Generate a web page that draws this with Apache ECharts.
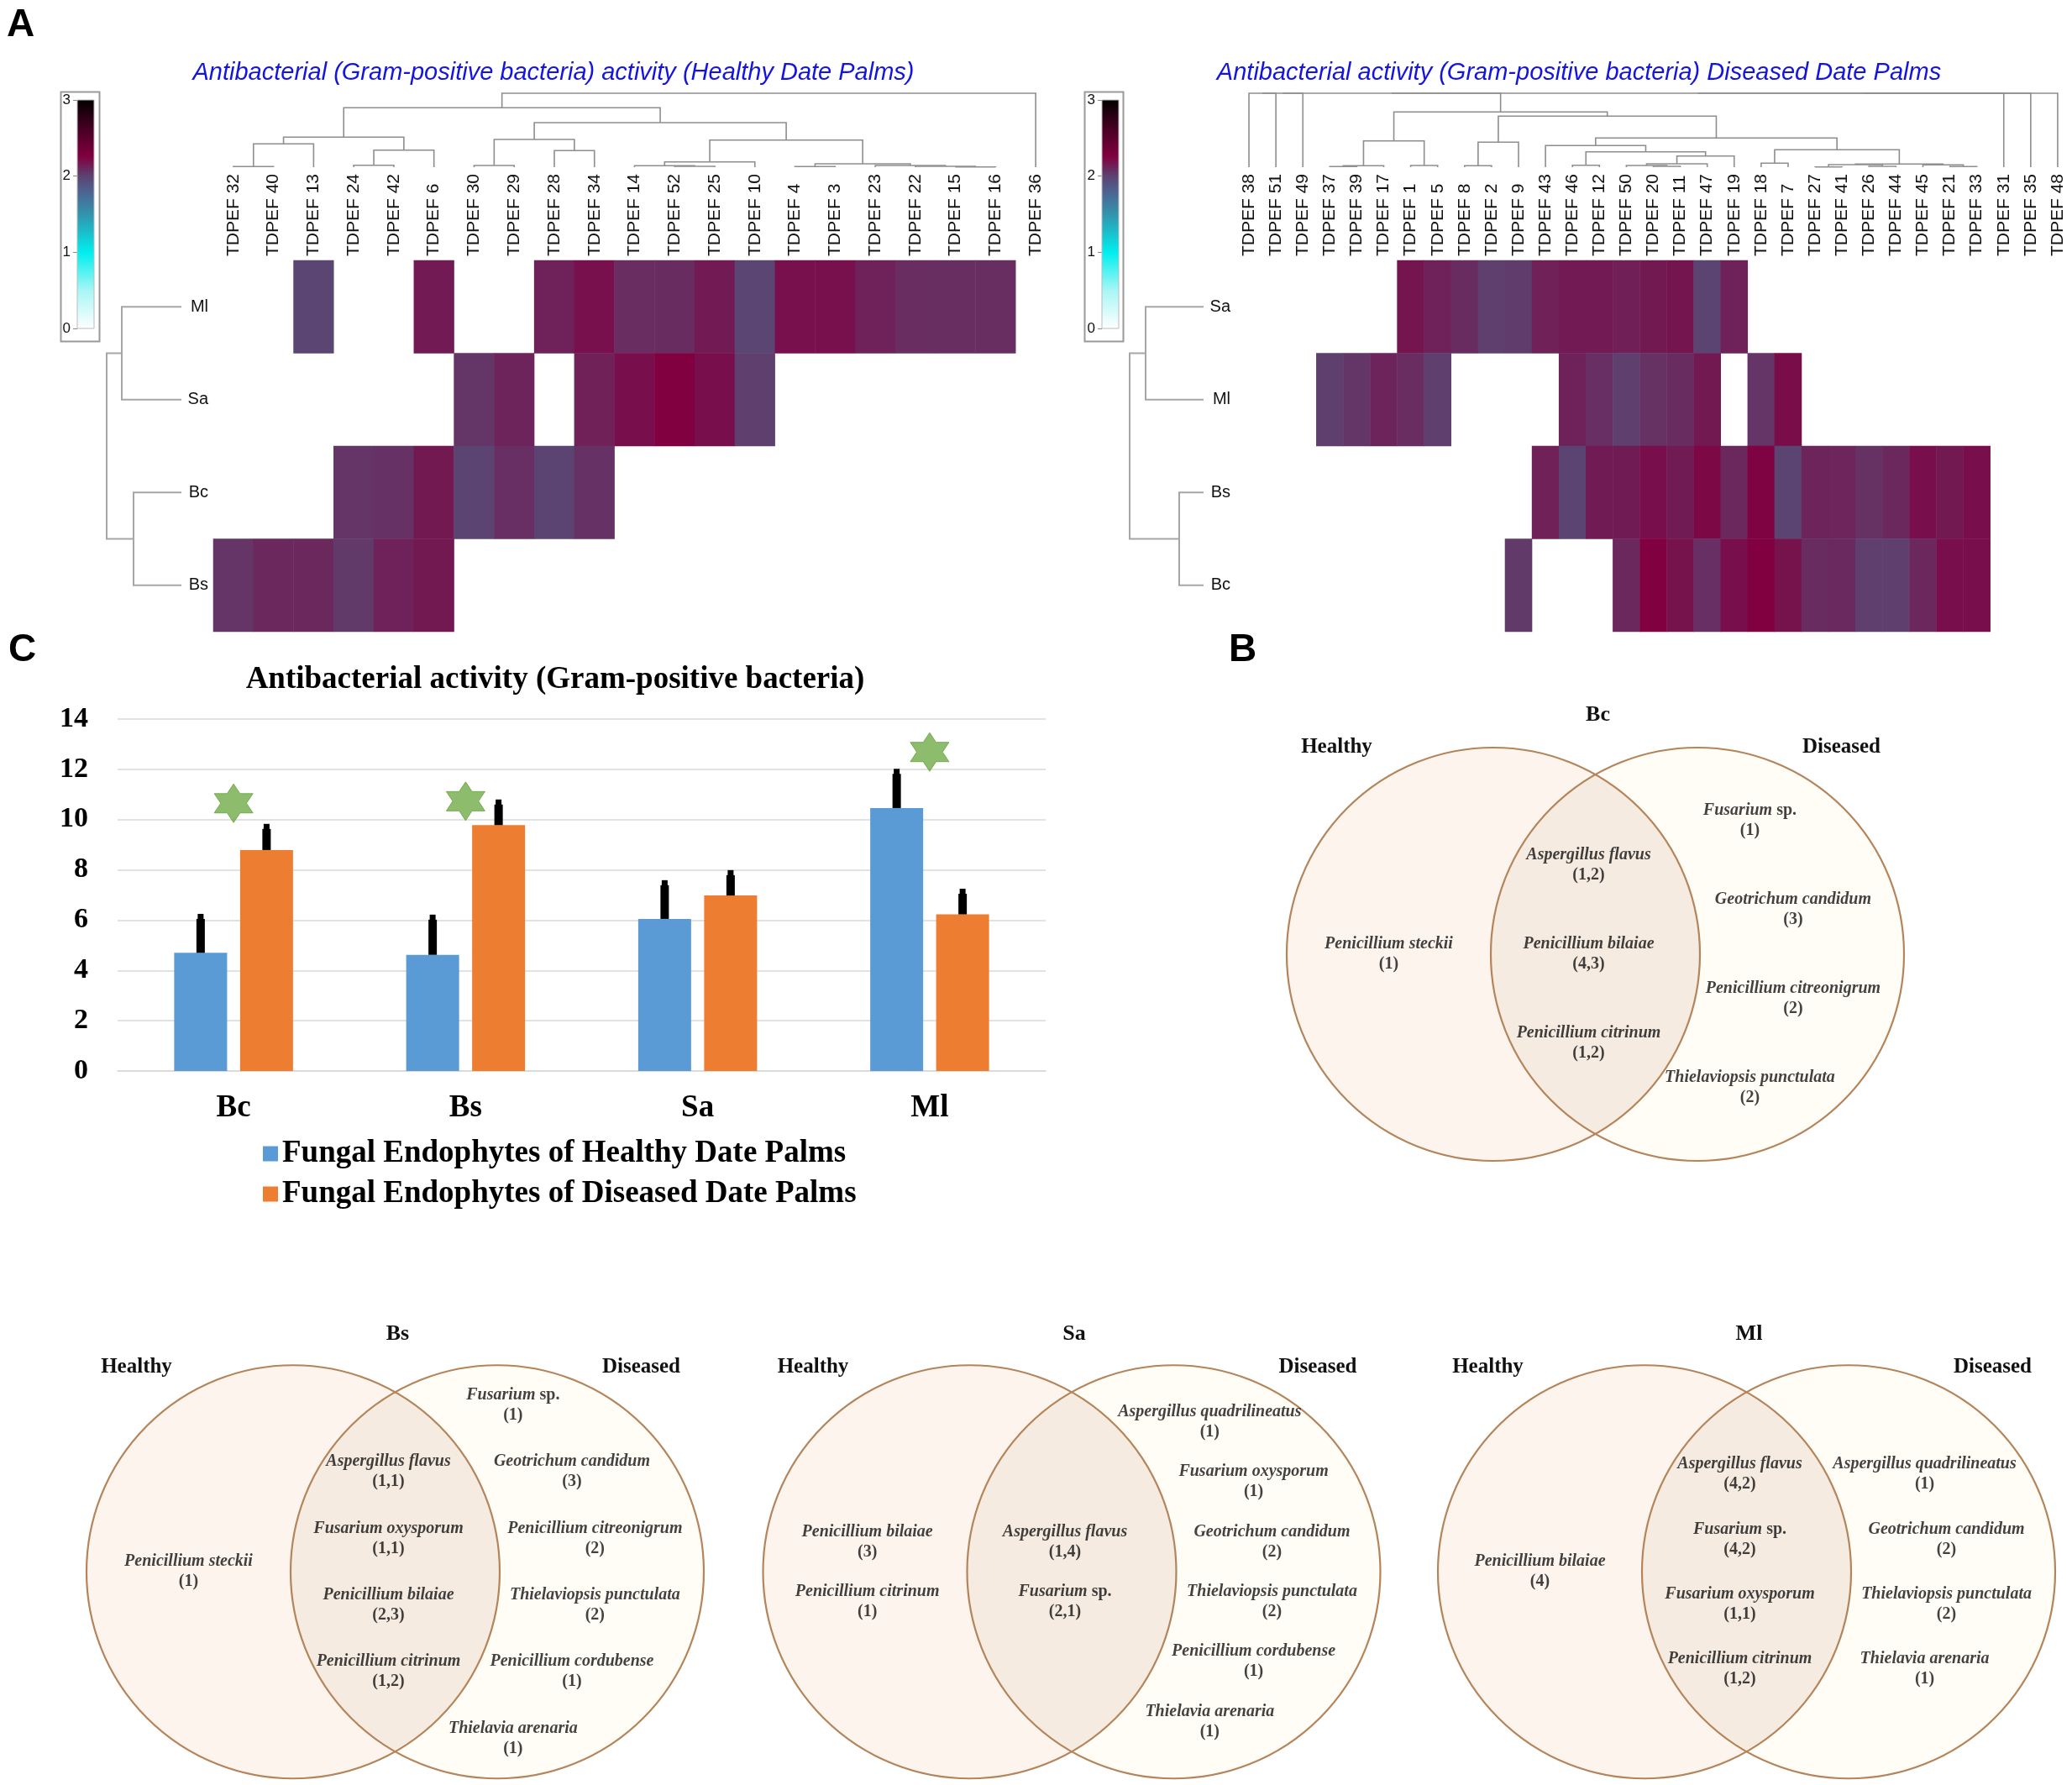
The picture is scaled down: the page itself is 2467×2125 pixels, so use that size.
<!DOCTYPE html>
<html><head><meta charset="utf-8">
<script src="https://cdn.jsdelivr.net/npm/echarts@6/dist/echarts.min.js"></script>
<style>html,body{margin:0;padding:0;background:#fff}#c{width:2467px;height:2125px}</style>
</head><body><div id="c"></div>
<script>
// ================= DATA =================
const _ = null;
// Panel A (left) – healthy date palms
const healthyCols = ['TDPEF 32','TDPEF 40','TDPEF 13','TDPEF 24','TDPEF 42','TDPEF 6','TDPEF 30','TDPEF 29','TDPEF 28','TDPEF 34','TDPEF 14','TDPEF 52','TDPEF 25','TDPEF 10','TDPEF 4','TDPEF 3','TDPEF 23','TDPEF 22','TDPEF 15','TDPEF 16','TDPEF 36'];
const healthyRows = ['Ml','Sa','Bc','Bs'];
const healthyMl = [_,_,1.98,_,_,2.15,_,_,2.12,2.19,2.08,2.085,2.15,1.98,2.19,2.19,2.12,2.08,2.075,2.075,_];
const healthySa = [_,_,_,_,_,_,2.045,2.115,_,2.125,2.195,2.25,2.195,2.01,_,_,_,_,_,_,_];
const healthyBc = [_,_,_,2.05,2.065,2.155,1.99,2.07,1.99,2.065,_,_,_,_,_,_,_,_,_,_,_];
const healthyBs = [2.05,2.1,2.1,2.03,2.12,2.155,_,_,_,_,_,_,_,_,_,_,_,_,_,_,_];
// column dendrogram: [childA, childB, height]
const healthyColMerges = [[0,1,0.7],[21,2,27.7],[3,4,2.3],[23,5,20.3],[22,24,35.7],[6,7,2],[8,9,19.7],[26,27,33],[11,12,1],[10,29,1.7],[30,13,6.3],[14,15,0.7],[18,19,0.3],[17,33,1],[16,34,2],[32,35,4],[31,36,32.3],[28,37,53],[25,38,70.7],[39,20,88]];
const healthyRowMerges = [[0,1,71],[2,3,57],[4,5,89]];

// Panel A (right) – diseased date palms
const diseasedCols = ['TDPEF 38','TDPEF 51','TDPEF 49','TDPEF 37','TDPEF 39','TDPEF 17','TDPEF 1','TDPEF 5','TDPEF 8','TDPEF 2','TDPEF 9','TDPEF 43','TDPEF 46','TDPEF 12','TDPEF 50','TDPEF 20','TDPEF 11','TDPEF 47','TDPEF 19','TDPEF 18','TDPEF 7','TDPEF 27','TDPEF 41','TDPEF 26','TDPEF 44','TDPEF 45','TDPEF 21','TDPEF 33','TDPEF 31','TDPEF 35','TDPEF 48'];
const diseasedRows = ['Sa','Ml','Bs','Bc'];
const diseasedSa = [_,_,_,_,_,_,2.17,2.12,2.085,2.01,2.02,2.125,2.15,2.15,2.13,2.155,2.17,1.99,2.12,_,_,_,_,_,_,_,_,_,_,_,_];
const diseasedMl = [_,_,_,2.01,2.045,2.115,2.08,2.01,_,_,_,_,2.12,2.07,2.01,2.06,2.085,2.155,_,2.05,2.2,_,_,_,_,_,_,_,_,_,_];
const diseasedBs = [_,_,_,_,_,_,_,_,_,_,_,2.125,1.99,2.145,2.145,2.195,2.145,2.22,2.1,2.24,1.99,2.115,2.11,2.06,2.1,2.195,2.155,2.195,_,_,_];
const diseasedBc = [_,_,_,_,_,_,_,_,_,_,2.03,_,_,_,2.1,2.25,2.18,2.07,2.195,2.25,2.18,2.085,2.09,2.01,2.01,2.1,2.195,2.195,_,_,_];
const diseasedColMerges = [[3,4,0.7],[31,5,1.7],[6,7,2],[32,33,31.3],[8,9,1.7],[35,10,29.7],[12,13,2.3],[15,16,1],[14,38,2],[39,17,4],[40,18,13.3],[37,41,18.3],[11,42,25.7],[19,20,4.7],[21,22,0.3],[23,24,1],[45,46,3],[26,27,0.7],[25,48,2.7],[47,49,3.7],[44,50,20.7],[43,51,34.7],[36,52,60.7],[34,53,65.7],[0,1,88],[55,2,88],[56,54,88],[57,28,88],[58,29,88],[59,30,88]];
const diseasedRowMerges = [[0,1,69],[2,3,29],[4,5,88]];
const colorScaleRange = [0,3];

// Panel C – bar chart
const barCategories = ['Bc','Bs','Sa','Ml'];
const healthyMeans = [4.70,4.62,6.05,10.46];
const diseasedMeans = [8.79,9.78,6.98,6.23];
const healthyErr = [1.55,1.60,1.54,1.56];
const diseasedErr = [1.04,1.02,1.01,1.02];
const starCategories = [0,1,3];
const starValues = [10.65,10.73,12.69];
const seriesNames = ['Fungal Endophytes of Healthy Date Palms','Fungal Endophytes of Diseased Date Palms'];

// Panel B – Venn diagrams [species, counts]
const vennBcHealthy = [['Penicillium steckii','(1)']];
const vennBcShared = [['Aspergillus flavus','(1,2)'],['Penicillium bilaiae','(4,3)'],['Penicillium citrinum','(1,2)']];
const vennBcDiseased = [['Fusarium sp.','(1)'],['Geotrichum candidum','(3)'],['Penicillium citreonigrum','(2)'],['Thielaviopsis punctulata','(2)']];
const vennBsHealthy = [['Penicillium steckii','(1)']];
const vennBsShared = [['Aspergillus flavus','(1,1)'],['Fusarium oxysporum','(1,1)'],['Penicillium bilaiae','(2,3)'],['Penicillium citrinum','(1,2)']];
const vennBsDiseased = [['Fusarium sp.','(1)'],['Geotrichum candidum','(3)'],['Penicillium citreonigrum','(2)'],['Thielaviopsis punctulata','(2)'],['Penicillium cordubense','(1)'],['Thielavia arenaria','(1)']];
const vennSaHealthy = [['Penicillium bilaiae','(3)'],['Penicillium citrinum','(1)']];
const vennSaShared = [['Aspergillus flavus','(1,4)'],['Fusarium sp.','(2,1)']];
const vennSaDiseased = [['Aspergillus quadrilineatus','(1)'],['Fusarium oxysporum','(1)'],['Geotrichum candidum','(2)'],['Thielaviopsis punctulata','(2)'],['Penicillium cordubense','(1)'],['Thielavia arenaria','(1)']];
const vennMlHealthy = [['Penicillium bilaiae','(4)']];
const vennMlShared = [['Aspergillus flavus','(4,2)'],['Fusarium sp.','(4,2)'],['Fusarium oxysporum','(1,1)'],['Penicillium citrinum','(1,2)']];
const vennMlDiseased = [['Aspergillus quadrilineatus','(1)'],['Geotrichum candidum','(2)'],['Thielaviopsis punctulata','(2)'],['Thielavia arenaria','(1)']];

// ================= LAYOUT / STYLE =================
const SANS = '"Liberation Sans", Arial, sans-serif';
const SERIF = '"Liberation Serif", "Times New Roman", serif';
const keyStops = [[0,'#ffffff'],[0.5,'#a8f6f6'],[1.0,'#00eeee'],[1.5,'#3194ad'],[1.8,'#4d6290'],[2.0,'#5d4270'],[2.25,'#800040'],[2.6,'#4a0025'],[3.0,'#000000']];
function hex2rgb(h){return [parseInt(h.slice(1,3),16),parseInt(h.slice(3,5),16),parseInt(h.slice(5,7),16)];}
function colorAt(v){
  for(let i=0;i<keyStops.length-1;i++){
    const [v0,c0]=keyStops[i],[v1,c1]=keyStops[i+1];
    if(v<=v1){const t=(v-v0)/(v1-v0);const a=hex2rgb(c0),b=hex2rgb(c1);
      return 'rgb('+a.map((x,j)=>Math.round(x+(b[j]-x)*t)).join(',')+')';}
  }
  return '#000000';
}
const vmColors=[];for(let i=0;i<=120;i++)vmColors.push(colorAt(colorScaleRange[1]*i/120));
const gradStops = keyStops.map(([v,c])=>({offset:1-v/colorScaleRange[1],color:c})).reverse();

function heatData(rows){const out=[];rows.forEach((arr,r)=>arr.forEach((v,c)=>{if(v!==null)out.push([c,r,v]);}));return out;}
function dendroLinks(merges,n){
  const pos=[],ht=[];for(let i=0;i<n;i++){pos[i]=i;ht[i]=0;}
  const links=[];
  merges.forEach((m,k)=>{const [a,b,h]=m;links.push([pos[a],ht[a],pos[b],ht[b],h]);pos[n+k]=(pos[a]+pos[b])/2;ht[n+k]=h;});
  return links;
}
function dendroRender(orient,color,width){
  return function(params,api){
    const a=api.value(0),ha=api.value(1),b=api.value(2),hb=api.value(3),h=api.value(4);
    const P=orient==='col'?(p,hh)=>api.coord([p,hh]):(p,hh)=>api.coord([hh,p]);
    return {type:'polyline',shape:{points:[P(a,ha),P(a,h),P(b,h),P(b,hb)]},style:{stroke:color,lineWidth:width,fill:'none'}};
  };
}

const grids=[], xAxes=[], yAxes=[], series=[], graphics=[];
function addGrid(g,x,y){grids.push(g);const i=grids.length-1;x.gridIndex=i;y.gridIndex=i;xAxes.push(x);yAxes.push(y);return i;}

// ---------- Heatmaps ----------
const HM_TOP=310, HM_H=442;
function heatPanel(cols,rowsNames,rowsData,left,width){
  const gi=addGrid({left:left,top:HM_TOP,width:width,height:HM_H},
    {type:'category',data:cols,position:'top',axisLine:{show:false},axisTick:{show:false},splitLine:{show:false},
     axisLabel:{rotate:-90,align:'left',verticalAlign:'middle',margin:5,fontSize:21,fontFamily:SANS,color:'#111',interval:0}},
    {type:'category',data:rowsNames,inverse:true,axisLine:{show:false},axisTick:{show:false},splitLine:{show:false},
     axisLabel:{margin:6,fontSize:20,fontFamily:SANS,color:'#111'}});
  series.push({type:'heatmap',xAxisIndex:gi,yAxisIndex:gi,data:heatData(rowsData),itemStyle:{borderWidth:0},emphasis:{disabled:true},silent:true,progressive:0});
  return gi;
}
function dendroPanels(cols,left,width,colMerges,rowMerges,rowDendroLeft,rowDendroW){
  const maxH = colMerges[colMerges.length-1][2];
  const gc=addGrid({left:left,top:111,width:width,height:88},
    {type:'value',min:-0.5,max:cols.length-0.5,show:false},{type:'value',min:0,max:maxH,show:false});
  series.push({type:'custom',xAxisIndex:gc,yAxisIndex:gc,data:dendroLinks(colMerges,cols.length),renderItem:dendroRender('col','#8e8e8e',1.6),silent:true});
  const rmax=rowMerges[rowMerges.length-1][2];
  const gr=addGrid({left:rowDendroLeft,top:HM_TOP,width:rowDendroW,height:HM_H},
    {type:'value',min:0,max:rmax,inverse:true,show:false},{type:'value',min:-0.5,max:3.5,inverse:true,show:false});
  series.push({type:'custom',xAxisIndex:gr,yAxisIndex:gr,data:dendroLinks(rowMerges,4),renderItem:dendroRender('row','#a6a6a6',2),silent:true});
}
function colorBar(barLeft,boxLeft){
  const g=addGrid({left:barLeft,top:119,width:20,height:272},
    {type:'value',min:0,max:1,show:false},
    {type:'value',min:colorScaleRange[0],max:colorScaleRange[1],interval:1,axisLine:{show:false},
     axisTick:{show:true,length:5,lineStyle:{color:'#888'}},splitLine:{show:false},
     axisLabel:{margin:8,fontSize:17,fontFamily:SANS,color:'#111'}});
  series.push({type:'custom',xAxisIndex:g,yAxisIndex:g,data:[[0,colorScaleRange[0],1,colorScaleRange[1]]],silent:true,
    renderItem:(p,api)=>{const p0=api.coord([api.value(0),api.value(3)]),p1=api.coord([api.value(2),api.value(1)]);
      return {type:'rect',shape:{x:p0[0],y:p0[1],width:p1[0]-p0[0],height:p1[1]-p0[1]},
        style:{fill:new echarts.graphic.LinearGradient(0,0,0,1,gradStops),stroke:'#bbb',lineWidth:1}};}});
  graphics.push({type:'rect',left:boxLeft,top:107,shape:{width:46,height:297},style:{fill:'none',stroke:'#9a9a9a',lineWidth:2}});
}
heatPanel(healthyCols,healthyRows,[healthyMl,healthySa,healthyBc,healthyBs],254,1003);
heatPanel(diseasedCols,diseasedRows,[diseasedSa,diseasedMl,diseasedBs,diseasedBc],1471,995);
dendroPanels(healthyCols,254,1003,healthyColMerges,healthyRowMerges,127,89);
dendroPanels(diseasedCols,1471,995,diseasedColMerges,diseasedRowMerges,1345,88);
colorBar(92,70);
colorBar(1312,1289);

// ---------- Bar chart ----------
const BAR_W=63, BAR_GAP=15.5;
const gb=addGrid({left:140,top:856,width:1105,height:419},
  {type:'category',data:barCategories,axisLine:{show:true,lineStyle:{color:'#d9d9d9',width:1.5}},axisTick:{show:false},
   axisLabel:{fontSize:37,fontWeight:'bold',fontFamily:SERIF,color:'#000',margin:26}},
  {type:'value',min:0,max:14,interval:2,axisLine:{show:false},axisTick:{show:false},
   splitLine:{lineStyle:{color:'#d9d9d9',width:1.5}},
   axisLabel:{fontSize:34,fontWeight:'bold',fontFamily:SERIF,color:'#000',margin:35}});
series.push({name:seriesNames[0],type:'bar',xAxisIndex:gb,yAxisIndex:gb,data:healthyMeans,barWidth:BAR_W,barGap:(BAR_GAP/BAR_W*100)+'%',itemStyle:{color:'#5b9bd5'},silent:true});
series.push({name:seriesNames[1],type:'bar',xAxisIndex:gb,yAxisIndex:gb,data:diseasedMeans,barWidth:BAR_W,itemStyle:{color:'#ed7d31'},silent:true});
function errRender(side){
  return (p,api)=>{
    const c=api.coord([api.value(0),api.value(1)]),t=api.coord([api.value(0),api.value(1)+api.value(2)]);
    const x=c[0]+side*(BAR_W+BAR_GAP)/2;
    return {type:'group',children:[
      {type:'rect',shape:{x:x-5,y:t[1]+6,width:10,height:c[1]-t[1]-6},style:{fill:'#000'}},
      {type:'rect',shape:{x:x-3.5,y:t[1],width:7,height:8},style:{fill:'#000'}}]};
  };
}
series.push({type:'custom',xAxisIndex:gb,yAxisIndex:gb,data:healthyMeans.map((m,i)=>[i,m,healthyErr[i]]),renderItem:errRender(-1),z:5,silent:true});
series.push({type:'custom',xAxisIndex:gb,yAxisIndex:gb,data:diseasedMeans.map((m,i)=>[i,m,diseasedErr[i]]),renderItem:errRender(1),z:5,silent:true});
const HEX='path://M0,-10 L2.887,-5 L8.66,-5 L5.774,0 L8.66,5 L2.887,5 L0,10 L-2.887,5 L-8.66,5 L-5.774,0 L-8.66,-5 L-2.887,-5 Z';
series.push({type:'scatter',xAxisIndex:gb,yAxisIndex:gb,data:starCategories.map((c,i)=>[c,starValues[i]]),symbol:HEX,symbolSize:[46,46],
  itemStyle:{color:'#70ad47',borderColor:'#62a03c',borderWidth:1},z:6,silent:true});

// ---------- Venn diagrams ----------
const R=246, D=243;
const venns=[
  {title:'Bc',mid:1899.5,cy:1136,spacing:106,h:vennBcHealthy,s:vennBcShared,d:vennBcDiseased},
  {title:'Bs',mid:470.5,cy:1873.5,spacing:80,h:vennBsHealthy,s:vennBsShared,d:vennBsDiseased},
  {title:'Sa',mid:1276,cy:1873.5,spacing:72,h:vennSaHealthy,s:vennSaShared,d:vennSaDiseased},
  {title:'Ml',mid:2079.5,cy:1873.5,spacing:78,h:vennMlHealthy,s:vennMlShared,d:vennMlDiseased}
];
function regionItems(list,spacing,xf){
  const n=list.length;return list.map((it,i)=>{const dy=(i-(n-1)/2)*spacing;return [xf(dy),dy,it[0],it[1]];});
}
venns.forEach(v=>{
  const HX=D/2+R+10, HY=R+10;
  const g=addGrid({left:v.mid-HX,top:v.cy-HY,width:2*HX,height:2*HY},
    {type:'value',min:-HX,max:HX,show:false},{type:'value',min:-HY,max:HY,inverse:true,show:false});
  series.push({type:'custom',xAxisIndex:g,yAxisIndex:g,silent:true,z:1,
    data:[[-D/2,0,R,0],[D/2,0,R,1],[0,0,R,2],[-D/2,0,R,3],[D/2,0,R,4]],
    renderItem:(p,api)=>{
      const kind=api.value(3), c=api.coord([api.value(0),api.value(1)]), r=api.size([api.value(2),0])[0];
      if(kind===0) return {type:'circle',shape:{cx:c[0],cy:c[1],r:r},style:{fill:'#fdf4ee'}};
      if(kind===1) return {type:'circle',shape:{cx:c[0],cy:c[1],r:r},style:{fill:'#fffdf6'}};
      if(kind===2){
        const h=Math.sqrt(R*R-(D/2)*(D/2)), th=Math.atan2(h,D/2), pts=[];
        for(let i=0;i<=60;i++){const a=-th+2*th*i/60;pts.push(api.coord([-D/2+R*Math.cos(a),R*Math.sin(a)]));}
        for(let i=0;i<=60;i++){const a=Math.PI-th+2*th*i/60;pts.push(api.coord([D/2+R*Math.cos(a),-R*Math.sin(a)]));}
        return {type:'polygon',shape:{points:pts},style:{fill:'#f6ebe0'}};
      }
      return {type:'circle',shape:{cx:c[0],cy:c[1],r:r},style:{fill:'none',stroke:'#b4845a',lineWidth:2.2}};
    }});
  const chord=dy=>Math.sqrt(Math.max(R*R-dy*dy,0));
  const items=[].concat(
    regionItems(v.h,v.spacing,dy=>-chord(dy)),
    regionItems(v.s,v.spacing,dy=>-8),
    regionItems(v.d,v.spacing,dy=>chord(dy)*0.98));
  series.push({type:'scatter',xAxisIndex:g,yAxisIndex:g,silent:true,z:3,data:items,symbolSize:1,itemStyle:{color:'rgba(0,0,0,0)'},
    label:{show:true,position:'inside',align:'center',verticalAlign:'middle',
      formatter:p=>{const nm=p.data[2];const t=nm.endsWith(' sp.')?'{i|'+nm.slice(0,-4)+'}{b| sp.}':'{i|'+nm+'}';return t+'\n{b|'+p.data[3]+'}';},
      rich:{i:{fontFamily:SERIF,fontStyle:'italic',fontWeight:'bold',fontSize:20,color:'#111',lineHeight:24},
            b:{fontFamily:SERIF,fontWeight:'bold',fontSize:20,color:'#111',lineHeight:24}}}});
  graphics.push({type:'text',x:v.mid+3,y:v.cy-285,style:{text:v.title,font:'bold 26px '+SERIF,fill:'#111',align:'center',verticalAlign:'middle',textAlign:'center',textVerticalAlign:'middle'}});
  graphics.push({type:'text',x:v.mid-308,y:v.cy-246,style:{text:'Healthy',font:'bold 25px '+SERIF,fill:'#111',align:'center',verticalAlign:'middle',textAlign:'center',textVerticalAlign:'middle'}});
  graphics.push({type:'text',x:v.mid+293,y:v.cy-246,style:{text:'Diseased',font:'bold 25px '+SERIF,fill:'#111',align:'center',verticalAlign:'middle',textAlign:'center',textVerticalAlign:'middle'}});
});

// ---------- Titles & panel letters ----------
function T(x,y,text,font,fill,align){graphics.push({type:'text',x:x,y:y,z:10,style:{text:text,font:font,fill:fill,align:align||'center',verticalAlign:'middle',textAlign:align||'center',textVerticalAlign:'middle'}});}
T(8,30,'A','bold 46px '+SANS,'#000','left');
T(10,774,'C','bold 46px '+SANS,'#000','left');
T(1463,774,'B','bold 46px '+SANS,'#000','left');
T(659,87,'Antibacterial (Gram-positive bacteria) activity (Healthy Date Palms)','italic 29px '+SANS,'#1414e0');
T(1880,87,'Antibacterial activity (Gram-positive bacteria) Diseased Date Palms','italic 29px '+SANS,'#1414e0');
T(661,809,'Antibacterial activity (Gram-positive bacteria)','bold 37px '+SERIF,'#000');

const chart=echarts.init(document.getElementById('c'),null,{width:2467,height:2125,renderer:'canvas'});
chart.setOption({
  animation:false,backgroundColor:'#ffffff',
  textStyle:{fontFamily:SANS},
  grid:grids,xAxis:xAxes,yAxis:yAxes,
  visualMap:{type:'continuous',min:colorScaleRange[0],max:colorScaleRange[1],show:false,seriesIndex:[0,1],inRange:{color:vmColors}},
  legend:{data:seriesNames,orient:'vertical',left:308,top:1350,itemWidth:18,itemHeight:18,itemGap:11,icon:'rect',selectedMode:false,
    textStyle:{fontSize:37,fontWeight:'bold',fontFamily:SERIF,color:'#000'}},
  graphic:graphics,
  series:series
});
</script></body></html>
